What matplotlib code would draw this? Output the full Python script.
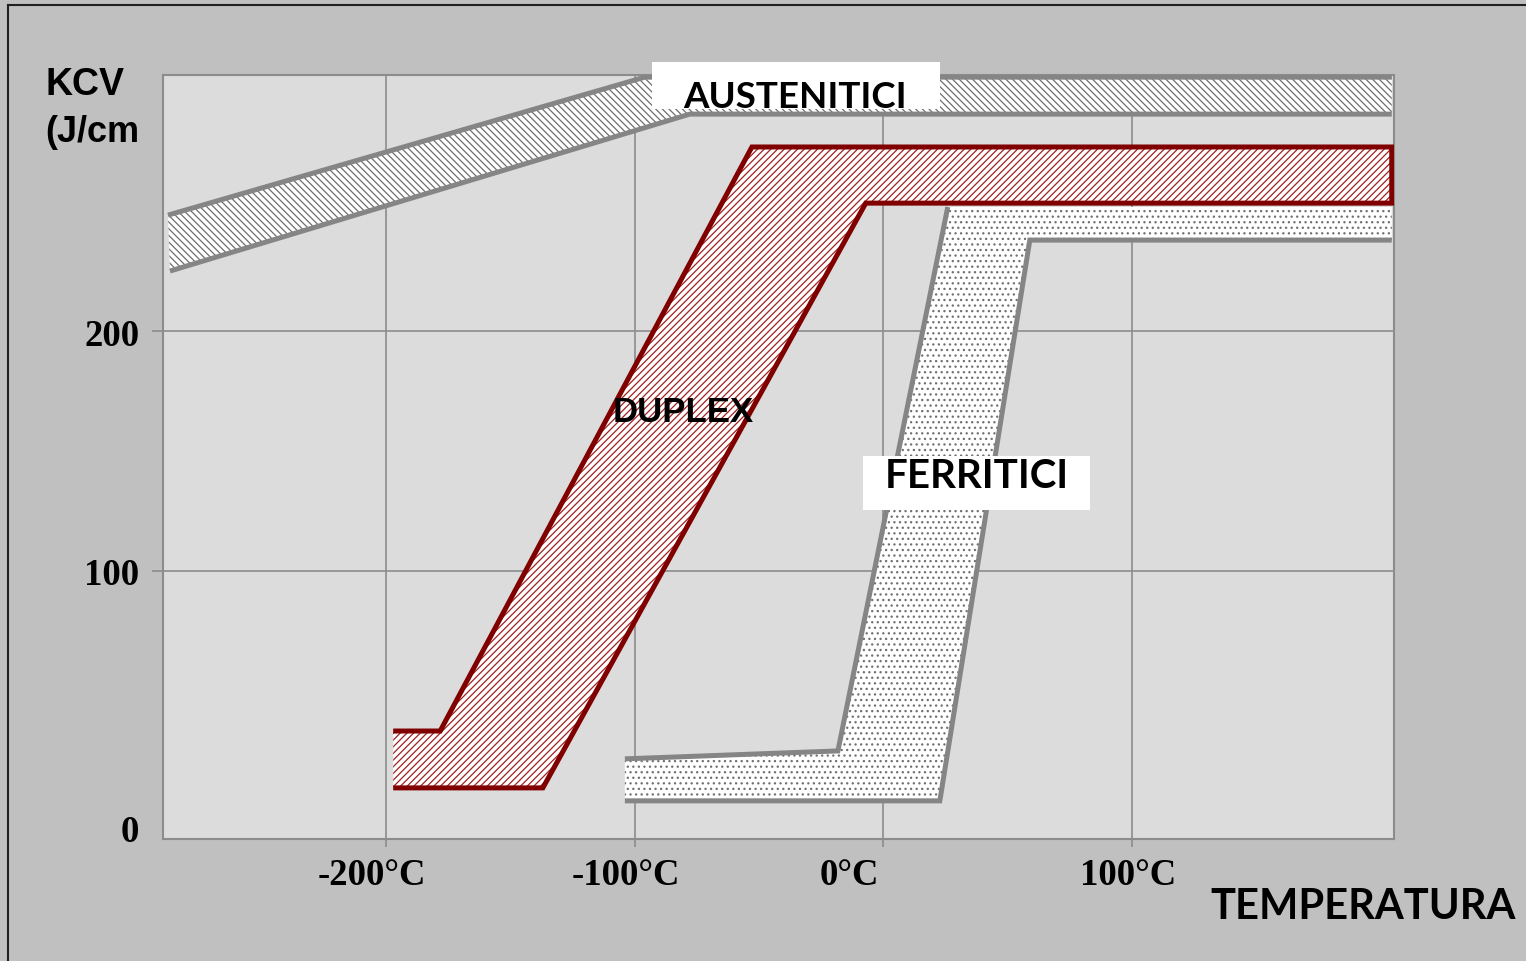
import matplotlib
matplotlib.use("Agg")
import matplotlib.pyplot as plt
import matplotlib.transforms as mtrans
from matplotlib.patches import Polygon, Rectangle
from matplotlib.lines import Line2D

# ---------------- data (temperature in °C, KCV in J/cm) ----------------
aust_upper_T = [-287.7, -95.9, 204.6]
aust_upper_K = [248.3, 305.8, 305.8]
aust_lower_T = [-286.9, -77.8, 204.6]
aust_lower_K = [225.0, 290.4, 290.4]

duplex_upper_T = [-197.1, -178.2, -52.8, 204.6]
duplex_upper_K = [33.3, 33.3, 276.7, 276.7]
duplex_lower_T = [-197.1, -136.9, -7.0, 204.6]
duplex_lower_K = [9.6, 9.6, 253.3, 253.3]

ferr_upper_T = [-103.9, -18.2, 26.0, 204.6]
ferr_upper_K = [21.7, 25.0, 251.7, 251.7]
ferr_lower_T = [-103.9, 22.8, 59.0, 204.6]
ferr_lower_K = [4.2, 4.2, 237.9, 237.9]

xtick_vals = [-200, -100, 0, 100]
xtick_labels = ["-200°C", "-100°C", "0°C", "100°C"]
ytick_vals = [0, 100, 200]
ytick_labels = ["0", "100", "200"]

# ---------------- styling / layout ----------------
W, H = 1526, 962
FIG_BG = "#c0c0c0"
AX_BG = "#dcdcdc"
GRID = "#8c8c8c"
GRAY_EDGE = "#858585"
RED_EDGE = "#800000"
RED_HATCH = "#a02020"
GRAY_HATCH = "#6e6e6e"
# horizontal pixel nudges of the x tick labels (layout only)
xlabel_nudge_px = [-14, -9, -34, -4]

plt.rcParams["hatch.linewidth"] = 0.9

fig = plt.figure(figsize=(W / 100, H / 100), dpi=100, facecolor=FIG_BG)

def fx(px):
    return px / W

def fy(py):
    return 1 - py / H

ax = fig.add_axes([fx(163), fy(840), fx(1394) - fx(163), fy(76) - fy(840)])
ax.set_facecolor(AX_BG)
ax.set_xlim(-289.7, 205.5)
ax.set_ylim(-11.7, 306.7)

for s in ax.spines.values():
    s.set_color(GRID)
    s.set_linewidth(1.5)

ax.set_xticks(xtick_vals, xtick_labels)
ax.set_yticks(ytick_vals, ytick_labels)
ax.grid(True, color=GRID, linewidth=1.2)
ax.set_axisbelow(True)
ax.tick_params(axis="x", direction="out", length=6, width=1.2, color=GRID, pad=7,
               labelsize=26.5)
ax.tick_params(axis="y", direction="out", length=8, width=1.2, color=GRID, pad=9,
               labelsize=26.5)
for lab in ax.get_xticklabels() + ax.get_yticklabels():
    lab.set_fontfamily("Liberation Serif")
    lab.set_fontweight("bold")
    lab.set_color("black")

# "0" label: no grid line / tick mark, label sits near the bottom spine
t0 = ax.yaxis.get_major_ticks()[0]
t0.gridline.set_visible(False)
t0.tick1line.set_visible(False)
t0.label1.set_transform(t0.label1.get_transform() +
                        mtrans.ScaledTranslation(0, -0.17, fig.dpi_scale_trans))

for tk, dx in zip(ax.xaxis.get_major_ticks(), xlabel_nudge_px):
    tk.label1.set_transform(tk.label1.get_transform() +
                            mtrans.ScaledTranslation(dx / 100, 0, fig.dpi_scale_trans))

LW = 3.6

# ---- Austenitic band ----
poly = list(zip(aust_upper_T, aust_upper_K)) + list(zip(aust_lower_T, aust_lower_K))[::-1]
ax.add_patch(Polygon(poly, closed=True, facecolor="white", edgecolor=GRAY_HATCH,
                     hatch="\\\\\\\\\\", linewidth=0, zorder=3))
ax.plot(aust_upper_T, aust_upper_K, color=GRAY_EDGE, lw=LW, zorder=4,
        solid_joinstyle="miter", solid_capstyle="butt")
ax.plot(aust_lower_T, aust_lower_K, color=GRAY_EDGE, lw=LW, zorder=4,
        solid_joinstyle="miter", solid_capstyle="butt")

# ---- Ferritic band ----
poly = list(zip(ferr_upper_T, ferr_upper_K)) + list(zip(ferr_lower_T, ferr_lower_K))[::-1]
ax.add_patch(Polygon(poly, closed=True, facecolor="white", edgecolor="#707070",
                     hatch="...", linewidth=0, zorder=3))
ax.plot(ferr_upper_T[:3], ferr_upper_K[:3], color=GRAY_EDGE, lw=LW, zorder=4,
        solid_joinstyle="miter", solid_capstyle="butt")
ax.plot(ferr_lower_T, ferr_lower_K, color=GRAY_EDGE, lw=LW, zorder=4,
        solid_joinstyle="miter", solid_capstyle="butt")

# ---- Duplex band ----
poly = list(zip(duplex_upper_T, duplex_upper_K)) + list(zip(duplex_lower_T, duplex_lower_K))[::-1]
ax.add_patch(Polygon(poly, closed=True, facecolor="white", edgecolor=RED_HATCH,
                     hatch="/////", linewidth=0, zorder=5))
ax.plot(duplex_upper_T + duplex_lower_T[::-1], duplex_upper_K + duplex_lower_K[::-1],
        color=RED_EDGE, lw=LW, zorder=6, solid_joinstyle="miter", solid_capstyle="butt")

# ---------------- labels ----------------
fig.text(fx(45), fy(85), "KCV", fontfamily="Liberation Sans", fontweight="bold",
         fontsize=27, ha="left", va="center")
fig.text(fx(45), fy(133), "(J/cm", fontfamily="Liberation Sans", fontweight="bold",
         fontsize=26, ha="left", va="center")

fig.text(fx(683), fy(412), "DUPLEX", fontfamily="Liberation Sans", fontweight="bold",
         fontsize=25, ha="center", va="center", zorder=10)

fig.patches.append(Rectangle((fx(652), fy(110)), fx(940) - fx(652), fy(63) - fy(110),
                             transform=fig.transFigure, facecolor="white",
                             edgecolor="none", zorder=8))
fig.text(fx(795), fy(97), "AUSTENITICI", fontfamily="Lato", fontweight="bold",
         fontsize=26.5, ha="center", va="center", zorder=10)

fig.patches.append(Rectangle((fx(863), fy(511)), fx(1090) - fx(863), fy(457) - fy(511),
                             transform=fig.transFigure, facecolor="white",
                             edgecolor="none", zorder=8))
fig.text(fx(977), fy(477), "FERRITICI", fontfamily="Lato", fontweight="bold",
         fontsize=29, ha="center", va="center", zorder=10)

fig.text(fx(1363), fy(907), "TEMPERATURA", fontfamily="Lato", fontweight="bold",
         fontsize=30, ha="center", va="center")

# figure border (left and top)
fig.add_artist(Line2D([fx(8), fx(8)], [0, fy(6)], transform=fig.transFigure,
                      color="#202020", lw=1.5))
fig.add_artist(Line2D([fx(8), 1], [fy(6), fy(6)], transform=fig.transFigure,
                      color="#202020", lw=1.5))

fig.savefig("out.png", dpi=100, facecolor=FIG_BG)
